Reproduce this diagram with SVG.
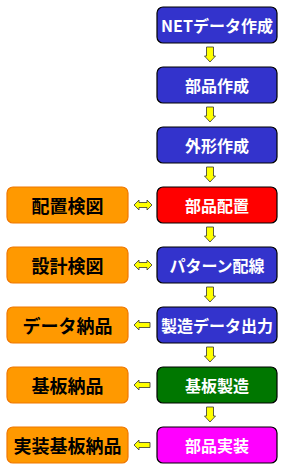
<svg xmlns="http://www.w3.org/2000/svg" width="285" height="469" viewBox="0 0 285 469">
<defs>
<style>
.rb{stroke:#000000;stroke-width:1.2}
.lb{fill:#FF9900;stroke:#F07800;stroke-width:1.2}
.rt{fill:#FFFFFF;font-family:"Noto Sans CJK JP","Noto Sans",sans-serif;font-weight:bold;font-size:16px;text-anchor:middle;dominant-baseline:central}
.lt{fill:#000000;font-family:"Noto Sans CJK JP","Noto Sans",sans-serif;font-weight:bold;font-size:18px;text-anchor:middle;dominant-baseline:central}
.ar{fill:#FFFF00;stroke:#333333;stroke-width:0.8;stroke-linejoin:miter}
</style>
<path id="down" class="ar" d="M-3.5,-15 H3.5 V-6 H5.5 L0,0 L-5.5,-6 H-3.5 Z"/>
<path id="left" class="ar" d="M0,0 L5,-5 V-2.5 H16 V2.5 H5 V5 Z"/>
<path id="both" class="ar" d="M0,0 L5,-5 V-2.5 H13 V-5 L18,0 L13,5 V2.5 H5 V5 Z"/>
</defs>
<rect width="285" height="469" fill="#FFFFFF"/>
<g id="connectors">
<use href="#down" x="210" y="62"/>
<use href="#down" x="210" y="122"/>
<use href="#down" x="210" y="182"/>
<use href="#down" x="210" y="242"/>
<use href="#down" x="210" y="302"/>
<use href="#down" x="210" y="362"/>
<use href="#down" x="210" y="422"/>
<use href="#both" x="134" y="205"/>
<use href="#both" x="134" y="265"/>
<use href="#left" x="134" y="325"/>
<use href="#left" x="134" y="385"/>
<use href="#left" x="134" y="445"/>
</g>
<g id="n1"><rect class="rb" x="157" y="7" width="120" height="36" rx="6" fill="#3333CC"/><text class="rt" x="217" y="25">NETデータ作成</text></g>
<g id="n2"><rect class="rb" x="157" y="67" width="120" height="36" rx="6" fill="#3333CC"/><text class="rt" x="217" y="85">部品作成</text></g>
<g id="n3"><rect class="rb" x="157" y="127" width="120" height="36" rx="6" fill="#3333CC"/><text class="rt" x="217" y="145">外形作成</text></g>
<g id="n4"><rect class="rb" x="157" y="187" width="120" height="36" rx="6" fill="#FF0000"/><text class="rt" x="217" y="205">部品配置</text></g>
<g id="n5"><rect class="rb" x="157" y="247" width="120" height="36" rx="6" fill="#3333CC"/><text class="rt" x="217" y="265">パターン配線</text></g>
<g id="n6"><rect class="rb" x="157" y="307" width="120" height="36" rx="6" fill="#3333CC"/><text class="rt" x="217" y="325">製造データ出力</text></g>
<g id="n7"><rect class="rb" x="157" y="367" width="120" height="36" rx="6" fill="#007700"/><text class="rt" x="217" y="385">基板製造</text></g>
<g id="n8"><rect class="rb" x="157" y="427" width="120" height="36" rx="6" fill="#FF00FF"/><text class="rt" x="217" y="445">部品実装</text></g>
<g id="l1"><rect class="lb" x="7" y="187" width="121" height="36" rx="6"/><text class="lt" x="67.5" y="205">配置検図</text></g>
<g id="l2"><rect class="lb" x="7" y="247" width="121" height="36" rx="6"/><text class="lt" x="67.5" y="265">設計検図</text></g>
<g id="l3"><rect class="lb" x="7" y="307" width="121" height="36" rx="6"/><text class="lt" x="67.5" y="325">データ納品</text></g>
<g id="l4"><rect class="lb" x="7" y="367" width="121" height="36" rx="6"/><text class="lt" x="67.5" y="385">基板納品</text></g>
<g id="l5"><rect class="lb" x="7" y="427" width="121" height="36" rx="6"/><text class="lt" x="67.5" y="445">実装基板納品</text></g>
</svg>
